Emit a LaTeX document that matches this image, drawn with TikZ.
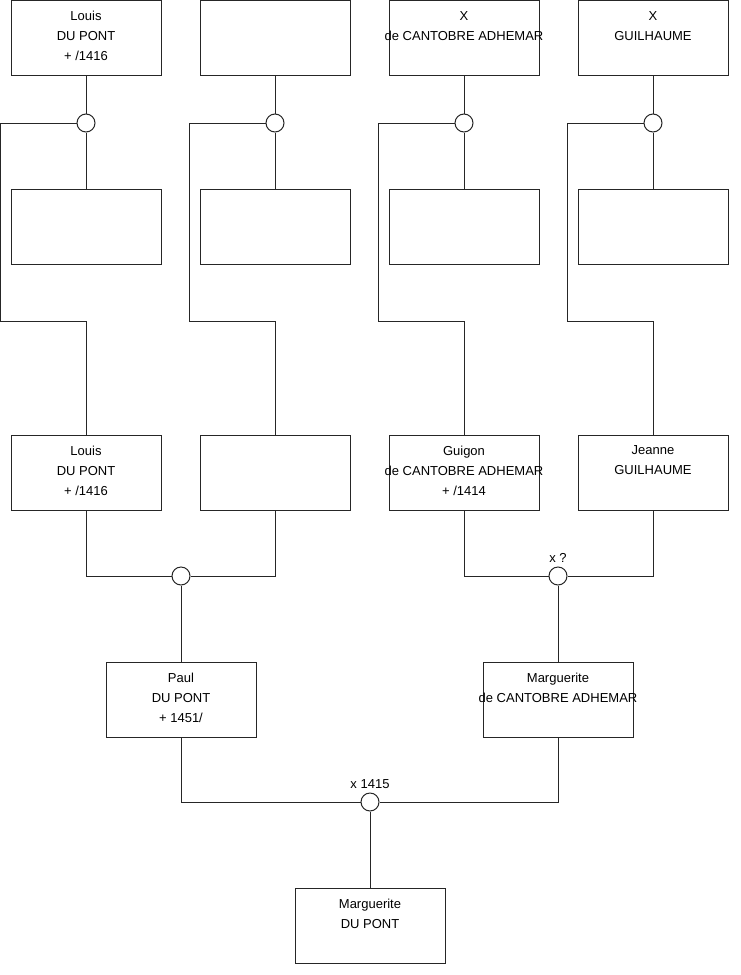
\documentclass[tikz,border=0pt]{standalone}
\usepackage{fontspec}
\setmainfont{Liberation Sans}

\begin{document}
\begin{tikzpicture}[
    x=1pt, y=-1pt,
    person/.style={rectangle, draw=black!85, line width=1pt, minimum width=150pt, minimum height=75pt, inner sep=0pt},
    info/.style={anchor=north, yshift=-11pt, inner sep=0pt, align=center, font=\fontsize{13}{20}\selectfont},
    union/.style={circle, draw=black!85, line width=1pt, fill=white, minimum size=18pt, inner sep=0pt},
    link/.style={draw=black!85, line width=1pt},
    wed/.style={font=\fontsize{13}{15}\selectfont}
]
\useasboundingbox (0,0) rectangle (740,975);

% --- First row (great-grandparents) ---
\node[person, label={[info]north:{Louis\\DU PONT\\+ /1416}}] (a1) at (86,38) {};
\node[person] (a2) at (275,38) {};
\node[person, label={[info]north:{X\\de CANTOBRE ADHEMAR}}] (a3) at (464,38) {};
\node[person, label={[info]north:{X\\GUILHAUME}}] (a4) at (653,38) {};

% --- Second row (empty spouses) ---
\foreach \i/\x in {1/86,2/275,3/464,4/653}
    \node[person] (m\i) at (\x,227) {};

% --- Unions of the first row ---
\foreach \i/\x in {1/86,2/275,3/464,4/653}
    \node[union] (c\i) at (\x,123) {};

% --- Third row (grandparents) ---
\node[person, label={[info]north:{Louis\\DU PONT\\+ /1416}}] (b1) at (86,472.5) {};
\node[person] (b2) at (275,472.5) {};
\node[person, label={[info]north:{Guigon\\de CANTOBRE ADHEMAR\\+ /1414}}] (b3) at (464,472.5) {};
\node[person, label={[info]north:{Jeanne\\GUILHAUME}}] (b4) at (653,472.5) {};

% --- Connect first row to second and third rows ---
\foreach \i in {1,...,4}
{
    \draw[link] (a\i) -- (c\i);
    \draw[link] (c\i) -- (m\i);
    \draw[link] (c\i.west) -| ++(-76,198) -| (b\i.north);
}

% --- Unions of the grandparents ---
\node[union] (k1) at (181,576) {};
\node[union, label={[wed]above:x ?}] (k2) at (558,576) {};

\draw[link] (b1.south) |- (k1.west);
\draw[link] (b2.south) |- (k1.east);
\draw[link] (b3.south) |- (k2.west);
\draw[link] (b4.south) |- (k2.east);

% --- Parents ---
\node[person, label={[info]north:{Paul\\DU PONT\\+ 1451/}}] (p1) at (181,699.5) {};
\node[person, label={[info]north:{Marguerite\\de CANTOBRE ADHEMAR}}] (p2) at (558,699.5) {};

\draw[link] (k1) -- (p1);
\draw[link] (k2) -- (p2);

% --- Marriage and child ---
\node[union, label={[wed]above:x 1415}] (k3) at (370,802) {};
\node[person, label={[info]north:{Marguerite\\DU PONT}}] (child) at (370,925.5) {};

\draw[link] (p1.south) |- (k3.west);
\draw[link] (p2.south) |- (k3.east);
\draw[link] (k3) -- (child);

\end{tikzpicture}
\end{document}
